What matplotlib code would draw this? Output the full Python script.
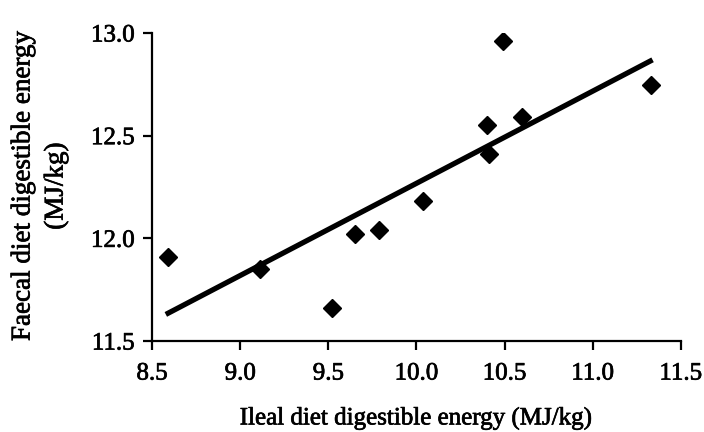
import numpy as np
import matplotlib
matplotlib.use("Agg")
import matplotlib.pyplot as plt
import matplotlib.patheffects as pe

plt.rcParams['font.family'] = ['Liberation Serif', 'DejaVu Serif']

ileal_de = [8.59, 9.11, 9.52, 9.65, 9.79, 10.04, 10.40, 10.41, 10.49, 10.60, 11.33]
faecal_de = [11.91, 11.85, 11.66, 12.02, 12.04, 12.18, 12.55, 12.41, 12.96, 12.59, 12.745]
x_ticks = [8.5, 9.0, 9.5, 10.0, 10.5, 11.0, 11.5]
y_ticks = [11.5, 12.0, 12.5, 13.0]

heavy = [pe.withStroke(linewidth=0.5, foreground='black')]

fig = plt.figure(figsize=(7.04, 4.32), dpi=100)
ax = fig.add_axes([0.216, 0.2106, 0.751, 0.713])

x = np.array(ileal_de)
y = np.array(faecal_de)
slope, intercept = np.polyfit(x, y, 1)
xl = np.array([x.min() - 0.012, x.max() + 0.01])
ax.plot(xl, slope * xl + intercept, color='black', lw=3.8, solid_capstyle='butt', zorder=2)
ax.plot(x, y, linestyle='none', marker='D', ms=9.5, color='black', zorder=3)

ax.set_xlim(8.5, 11.5)
ax.set_ylim(11.5, 13.0)
ax.set_xticks(x_ticks)
ax.set_yticks(y_ticks)
ax.set_xticklabels([f"{t:.1f}" for t in x_ticks])
ax.set_yticklabels([f"{t:.1f}" for t in y_ticks])
for s in ['top', 'right']:
    ax.spines[s].set_visible(False)
for s in ['left', 'bottom']:
    ax.spines[s].set_linewidth(1.6)
ax.tick_params(axis='both', direction='out', length=6.5, width=1.6, labelsize=18, colors='black')
ax.tick_params(axis='x', pad=9)
ax.tick_params(axis='y', pad=6)
for lab in ax.get_xticklabels() + ax.get_yticklabels():
    lab.set_path_effects(heavy)
ax.set_xlabel('Ileal diet digestible energy (MJ/kg)', fontsize=18, labelpad=16, path_effects=heavy)

fig.text(23 / 704, 1 - 186 / 432, 'Faecal diet digestible energy', rotation=90,
         ha='center', va='center', fontsize=19.5, path_effects=heavy)
fig.text(56 / 704, 1 - 186 / 432, '(MJ/kg)', rotation=90,
         ha='center', va='center', fontsize=19.5, path_effects=heavy)

fig.savefig('out.png', dpi=100)
